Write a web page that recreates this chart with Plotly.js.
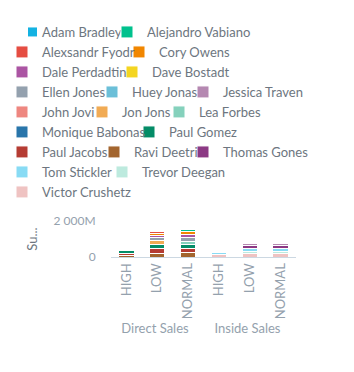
<!DOCTYPE html>
<html><head><meta charset="utf-8">
<script src="https://cdn.plot.ly/plotly-3.0.1.min.js"></script>
<style>html,body{margin:0;padding:0;background:#fff}#chart{width:354px;height:372px}</style>
</head><body><div id="chart"></div>
<script>
// categories
const salesGroups = ['Direct Sales','Direct Sales','Direct Sales','Inside Sales','Inside Sales','Inside Sales'];
const priorities  = ['HIGH','LOW','NORMAL','HIGH','LOW','NORMAL'];

// series names (legend order) and colours
const salesReps = ['Adam Bradley','Alejandro Vabiano','Alexsandr Fyodr','Cory Owens','Dale Perdadtin','Dave Bostadt',
  'Ellen Jones','Huey Jonas','Jessica Traven','John Jovi','Jon Jons','Lea Forbes','Monique Babonas','Paul Gomez',
  'Paul Jacobs','Ravi Deetri','Thomas Gones','Tom Stickler','Trevor Deegan','Victor Crushetz'];
const repColors = ['#14b2e2','#00c18d','#e54d42','#f18600','#ab55a3','#f4d521','#94a1ae','#6bbfd8','#b588b1','#ee8780',
  '#f1ab54','#85d1bc','#2975aa','#048c67','#b53c33','#a3652e','#8c3984','#88dbf4','#bdeade','#efc3c2'];

// values in millions: Direct HIGH, LOW, NORMAL, Inside HIGH, LOW, NORMAL
const adamBradley     = [null, null, null, null, null, null];
const alejandroVabiano= [null, null, 156, null, null, null];
const alexsandrFyodr  = [null, 111, null, null, null, null];
const coryOwens       = [null, 117, 167, null, null, null];
const dalePerdadtin   = [null, 139, 167, null, null, null];
const daveBostadt     = [null, null, null, null, null, null];
const ellenJones      = [null, 156, 167, null, null, null];
const hueyJonas       = [null, null, null, null, null, null];
const jessicaTraven   = [null, null, null, null, 111, 110];
const johnJovi        = [null, null, null, null, null, null];
const jonJons         = [null, 211, null, null, null, null];
const leaForbes       = [null, null, 206, null, null, null];
const moniqueBabonas  = [null, null, null, null, null, null];
const paulGomez       = [128, 217, 200, null, null, null];
const paulJacobs      = [111, 256, 222, null, null, null];
const raviDeetri      = [111, 222, 261, null, null, null];
const thomasGones     = [null, null, null, null, 156, 160];
const tomStickler     = [null, null, null, 111, 167, 165];
const trevorDeegan    = [null, null, null, null, 150, 145];
const victorCrushetz  = [null, null, null, 139, 167, 170];

const repValues = [adamBradley, alejandroVabiano, alexsandrFyodr, coryOwens, dalePerdadtin, daveBostadt, ellenJones,
  hueyJonas, jessicaTraven, johnJovi, jonJons, leaForbes, moniqueBabonas, paulGomez, paulJacobs, raviDeetri,
  thomasGones, tomStickler, trevorDeegan, victorCrushetz];

// y axis ticks
const yTickValues = [0, 2000];
const yTickLabels = ['0', '2 000M'];
const yTitle = 'Su...';

// ---- layout ----
const W = 354, H = 372;
const M = {l: 111, r: 58, t: 221, b: 115};
const plotW = W - M.l - M.r;
const FONT = 'Lato, "Open Sans", sans-serif';
const legendFontSize = 13;
// wrapped legend: [row, label left in px] for each entry, in legend order
const legendSlots = [[0, 42], [0, 147], [1, 42], [1, 159], [2, 42], [2, 152], [3, 42], [3, 132], [3, 223],
  [4, 42], [4, 122], [4, 199], [5, 42], [5, 169], [6, 42], [6, 134], [6, 223], [7, 42], [7, 142], [8, 42]];
const legendIds = salesReps.map((n, i) => i === 0 ? 'legend' : 'legend' + (i + 1));

const layout = {
  width: W, height: H,
  margin: Object.assign({autoexpand: false}, M),
  paper_bgcolor: '#fff', plot_bgcolor: '#fff',
  font: {family: FONT, color: '#6d7680'},
  barmode: 'stack', bargap: 0.5,
  showlegend: true,
  xaxis: {
    type: 'multicategory', tickangle: -90, showdividers: false, showgrid: false,
    showline: true, linecolor: '#ccd8e2', linewidth: 1, ticks: '',
    tickfont: {family: FONT, size: 13, color: '#94a1ad'}
  },
  yaxis: {
    range: [0, 2000], tickvals: yTickValues, ticktext: yTickLabels,
    showgrid: true, gridcolor: '#ebebeb', zeroline: false, showline: false,
    ticks: 'outside', ticklen: 12, tickcolor: 'rgba(0,0,0,0)',
    tickfont: {family: FONT, size: 12, color: '#94a1ad'},
    title: {text: yTitle, standoff: 12, font: {family: FONT, size: 13, color: '#6d7680'}}
  }
};
legendIds.forEach((id, i) => {
  const [row, textX] = legendSlots[i];
  layout[id] = {
    x: (textX - 40 - M.l) / plotW, xref: 'paper', xanchor: 'left',
    y: 1 - (32 + 20 * row) / H, yref: 'container', yanchor: 'middle',
    bgcolor: 'rgba(0,0,0,0)', borderwidth: 0, orientation: 'v',
    font: {family: FONT, size: legendFontSize, color: '#6d7680'}
  };
});

// traces: stacked bottom-up from the end of the list
const traces = [];
for (let i = salesReps.length - 1; i >= 0; i--) {
  traces.push({
    type: 'bar', name: salesReps[i], legend: legendIds[i],
    x: [salesGroups, priorities], y: repValues[i],
    marker: {color: repColors[i], line: {color: '#ffffff', width: 1}},
    hoverinfo: 'none'
  });
}

function fixKeys(gd) {
  // small square legend keys at a fixed spot just before the label start (no text measuring)
  gd.querySelectorAll('g.traces').forEach(item => {
    const t = item.querySelector('text.legendtext');
    const p = item.querySelector('g.legendpoints path');
    if (!t || !p) return;
    const bb = p.getBBox();
    const m = p.getScreenCTM().inverse().multiply(t.getScreenCTM());
    const pt = p.ownerSVGElement.createSVGPoint();
    pt.x = parseFloat(t.getAttribute('x')) || 40; pt.y = 0;
    const q = pt.matrixTransform(m);
    const cx = q.x - 5 - 4.5, cy = bb.y + bb.height / 2;
    p.setAttribute('d', `M${cx + 4.5},${cy + 4.5}H${cx - 4.5}V${cy - 4.5}H${cx + 4.5}Z`);
    p.style.strokeWidth = '0';
  });
  // group labels closer to the category labels
  gd.querySelectorAll('g.xtick2 text').forEach(t => {
    const y = parseFloat(t.getAttribute('y')) || 0;
    t.setAttribute('y', y - 12);
  });
}

const gdiv = document.getElementById('chart');
Plotly.newPlot(gdiv, traces, layout, {displayModeBar: false, staticPlot: true}).then(() => fixKeys(gdiv));
</script>
</body></html>
